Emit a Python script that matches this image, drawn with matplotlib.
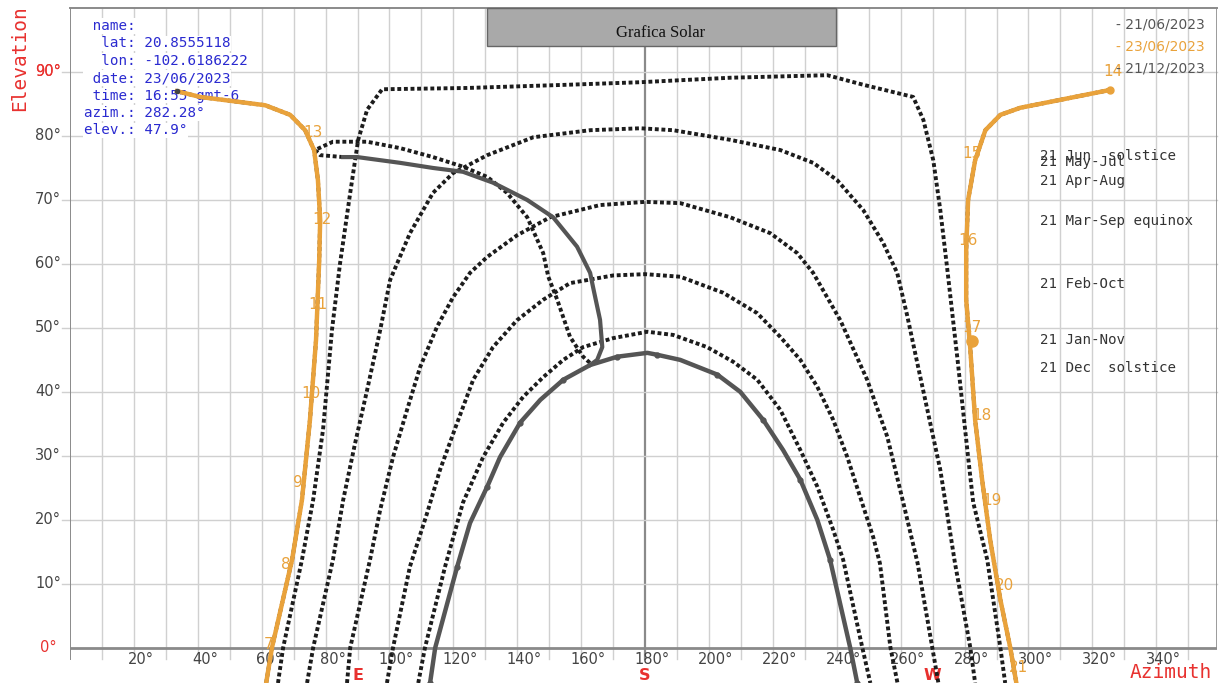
import matplotlib
matplotlib.use("Agg")
import matplotlib.pyplot as plt
from matplotlib.patches import Rectangle

# ---------------- data (azimuth deg, elevation deg) ----------------
may_az = [65.1, 66.7, 72.6, 76.1, 79.2, 82.0, 84.5, 87.7, 90.2, 93.0, 97.7, 124.3, 155.6, 178.5, 206.6,
          237.0, 248.3, 263.9, 267.1, 270.2, 272.4, 274.6, 277.8, 281.1, 282.7, 287.1, 291.2, 292.7]
may_el = [-5.5, 0.0, 13.75, 23.1, 34.1, 49.7, 60.0, 71.1, 79.4, 84.1, 87.3, 87.5, 88.0, 88.4, 89.1,
          89.5, 88.0, 86.1, 82.5, 76.2, 68.4, 59.1, 45.0, 29.8, 22.7, 13.75, 0.0, -5.5]

apr_az = [74.2, 76.1, 82.3, 85.5, 89.2, 93.0, 97.1, 100.2, 106.4, 113.6, 119.9, 123.0, 130.6, 145.0, 162.8,
          178.5, 188.8, 206.6, 222.3, 232.6, 240.1, 248.3, 254.5, 258.9, 262.0, 265.2, 272.4, 277.0, 281.8, 283.3]
apr_el = [-5.5, 0.0, 13.75, 23.1, 31.9, 40.3, 49.7, 57.5, 64.8, 71.1, 74.2, 75.0, 77.0, 79.8, 80.9,
          81.2, 80.9, 79.4, 77.8, 75.8, 73.1, 68.4, 63.3, 58.6, 52.0, 44.5, 27.8, 13.2, 0.0, -5.5]

mar_az = [86.7, 87.7, 93.9, 97.1, 101.1, 105.5, 109.6, 114.9, 119.9, 125.2, 130.6, 140.0, 150.3, 165.9, 180.0,
          191.0, 206.6, 219.2, 227.6, 232.6, 241.1, 249.5, 255.8, 260.8, 265.3, 269.9, 271.8]
mar_el = [-5.5, 0.0, 13.75, 21.6, 29.8, 37.2, 43.9, 50.2, 54.8, 58.6, 61.1, 64.5, 67.3, 69.2, 69.7,
          69.5, 67.3, 64.8, 61.7, 58.6, 51.2, 41.9, 33.0, 22.7, 13.2, 0.0, -5.5]

feb_az = [99.2, 101.1, 106.4, 111.8, 115.8, 121.2, 126.2, 132.4, 139.9, 148.1, 156.5, 170.0, 180.0,
          191.0, 204.4, 215.1, 222.3, 228.6, 233.9, 238.9, 243.3, 247.3, 251.4, 253.5, 256.8, 259.0]
feb_el = [-5.5, 0.0, 12.7, 21.1, 27.8, 35.2, 41.9, 47.0, 51.2, 54.4, 57.0, 58.2, 58.4,
          58.0, 55.5, 52.3, 48.6, 45.0, 40.8, 35.6, 29.8, 23.6, 17.3, 13.2, 0.0, -5.5]

jan_az = [109.0, 111.1, 117.4, 123.0, 129.3, 135.6, 141.8, 148.1, 154.4, 160.6, 170.0, 180.7,
          188.8, 199.4, 207.6, 215.1, 222.3, 228.6, 233.9, 238.9, 242.0, 248.0, 250.5]
jan_el = [-5.5, 0.0, 12.7, 22.7, 29.8, 35.2, 39.2, 42.3, 45.0, 47.0, 48.4, 49.4,
          48.9, 47.0, 44.7, 41.9, 37.2, 30.9, 25.2, 18.4, 13.75, 0.0, -5.5]

dec_az = [112.7, 114.3, 121.2, 125.2, 130.6, 134.6, 140.9, 147.2, 154.4, 162.8, 171.3, 180.7, 183.8,
          191.0, 202.6, 209.8, 217.0, 223.2, 228.6, 233.9, 237.9, 244.2, 246.4]
dec_el = [-5.5, 0.0, 12.7, 19.5, 25.2, 29.8, 35.2, 38.75, 41.9, 44.2, 45.5, 46.1, 45.8,
          45.0, 42.7, 40.0, 35.6, 30.9, 26.25, 20.0, 13.75, 0.0, -5.5]

hourA_az = [85.5, 78.3, 76.7, 82.3, 93.0, 103.3, 113.6, 123.0, 130.6, 136.8, 143.1, 148.1, 149.7,
            152.5, 156.5, 160.6, 162.8]
hourA_el = [76.7, 77.0, 77.8, 79.1, 79.1, 78.1, 76.7, 75.2, 73.6, 71.1, 67.3, 61.7, 58.0,
            54.4, 48.6, 45.5, 44.5]

hourB_az = [85.5, 89.9, 103.3, 113.6, 123.0, 132.4, 143.1, 151.2, 158.7, 162.8, 163.7, 165.9, 166.6, 165.0, 162.8]
hourB_el = [76.7, 76.7, 75.8, 75.0, 74.4, 72.7, 70.0, 67.3, 62.7, 58.6, 56.4, 51.25, 47.0, 45.0, 44.2]

sun_am_az = [61.4, 63.2, 69.5, 72.6, 75.1, 77.0, 78.0, 78.3, 77.6, 76.4, 73.6, 68.9, 61.1, 40.7, 33.5]
sun_am_el = [-5.5, 0.0, 13.75, 23.1, 35.6, 48.1, 60.6, 66.9, 73.1, 77.8, 80.9, 83.3, 84.8, 86.1, 87.0]
sun_pm_az = [325.6, 297.4, 291.2, 286.5, 283.3, 281.1, 280.5, 280.5, 281.8, 283.3, 285.5, 288.0, 291.2, 294.3, 296.2]
sun_pm_el = [87.2, 84.4, 83.3, 80.9, 76.2, 70.0, 62.2, 54.4, 46.6, 35.6, 26.2, 16.9, 7.5, 0.0, -5.5]

hour_labels = ["7", "8", "9", "10", "11", "12", "13", "14", "15", "16", "17", "18", "19", "20", "21"]
hour_az = [62.0, 67.6, 71.4, 75.4, 77.6, 78.9, 76.1, 326.5, 282.4, 281.1, 282.4, 285.5, 288.6, 292.4, 296.8]
hour_el = [0.5, 13.0, 25.9, 39.8, 53.6, 66.9, 80.5, 90.0, 77.3, 63.6, 50.0, 36.25, 23.0, 9.7, -3.1]

current_az = [282.28]
current_el = [47.9]

x_ticks = list(range(20, 360, 20))
y_ticks = list(range(0, 100, 10))
cardinal_labels = ["E", "S", "W"]
cardinal_az = [90, 180, 270]

info_labels = ["name", "lat", "lon", "date", "time", "azim.", "elev."]
info_values = ["", "20.8555118", "-102.6186222", "23/06/2023", "16:55 gmt-6", "282.28°", "47.9°"]

legend_labels = ["21/06/2023", "23/06/2023", "21/12/2023"]
path_labels = ["21 Jun  solstice", "21 May-Jul", "21 Apr-Aug", "21 Mar-Sep equinox",
               "21 Feb-Oct", "21 Jan-Nov", "21 Dec  solstice"]
path_label_el = [76.8, 76.0, 73.0, 66.7, 56.9, 48.1, 43.8]

# ---------------- styling ----------------
W, H = 1221, 683
fig = plt.figure(figsize=(W / 100, H / 100), dpi=100)
fig.patch.set_facecolor("white")

def fx(px):
    return px / W

def fy(py):
    return 1 - py / H

ax = fig.add_axes([fx(70), fy(683), fx(1217) - fx(70), fy(8) - fy(683)])
ax.set_xlim(0, 359)
ax.set_ylim(-5.5, 100)
for s in ax.spines.values():
    s.set_visible(False)
ax.set_xticks([])
ax.set_yticks([])

GRID = "#d0d0d0"
ORANGE = "#e9a23b"
RED = "#e8312f"
DARK = "#444444"

# grid
for a in range(10, 359, 10):
    ax.plot([a, a], [-1.8, 100], color="#8a8a8a" if a == 180 else GRID,
            lw=1.6 if a == 180 else 1.0, zorder=1)
for e in range(10, 100, 10):
    ax.plot([-2.6, 359], [e, e], color=GRID, lw=1.0, zorder=1, clip_on=False)
ax.plot([0, 359], [0, 0], color="#8a8a8a", lw=2.0, zorder=2)
ax.plot([0, 0], [-1.8, 100], color="#8a8a8a", lw=1.4, zorder=2)
ax.plot([359, 359], [0, 100], color="#8a8a8a", lw=1.2, zorder=2)
ax.plot([0, 359], [100, 100], color="#8a8a8a", lw=1.4, zorder=2, clip_on=False)

# info text (below the curves, white background hides the grid)
for i, (lab, val) in enumerate(zip(info_labels, info_values)):
    s = f"{lab + ':':>6} {val}"
    ax.text(fx(84), fy(26 + i * 17.4), s, color="#2a2ad0", fontsize=10.3, ha="left", va="center",
            fontfamily="DejaVu Sans Mono", transform=fig.transFigure, zorder=3,
            bbox=dict(facecolor="white", edgecolor="none", pad=0.6))

# hatched day paths
hatch = dict(color="#1c1c1c", lw=2.8, linestyle=(0, (1.0, 0.7)), zorder=4, solid_capstyle="butt")
for az, el in [(may_az, may_el), (apr_az, apr_el), (mar_az, mar_el), (feb_az, feb_el), (jan_az, jan_el)]:
    ax.plot(az, el, **hatch)
ax.plot(hourA_az, hourA_el, **hatch)

# solid paths
ax.plot(hourB_az, hourB_el, color="#555555", lw=3.0, zorder=5)
ax.plot(dec_az, dec_el, color="#555555", lw=3.2, zorder=5, marker="o", ms=3.5, markevery=2)

# the day (orange) over the hatched June path
ax.plot(sun_am_az, sun_am_el, **hatch)
ax.plot(sun_pm_az, sun_pm_el, **hatch)
ax.plot(sun_am_az, sun_am_el, color=ORANGE, lw=3.2, zorder=6)
ax.plot(sun_pm_az, sun_pm_el, color=ORANGE, lw=3.2, zorder=6)
ax.plot(sun_pm_az[:1], sun_pm_el[:1], "o", color=ORANGE, ms=5, zorder=7)
ax.plot(sun_am_az[-1:], sun_am_el[-1:], "o", color="#444444", ms=3, zorder=7)
ax.plot(current_az, current_el, "o", color=ORANGE, ms=8, zorder=7)
for lab, a, e in zip(hour_labels, hour_az, hour_el):
    ax.text(a, e, lab, color=ORANGE, fontsize=11, ha="center", va="center", zorder=8,
            fontfamily="DejaVu Sans")

# axis tick labels
for a in x_ticks:
    ax.text(a + 2.2, -1.75, f"{a}°", color=DARK, fontsize=10.5, ha="center", va="center",
            fontfamily="DejaVu Sans", clip_on=False)
for e in y_ticks:
    col = RED if e in (0, 90) else DARK
    fig.text(fx(48), fy(648 - e * 6.4), f"{e}°", color=col, fontsize=10.5, ha="center", va="center",
             fontfamily="DejaVu Sans")
fig.text(fx(48), fy(648 - 90 * 6.4), "90°", color=RED, fontsize=10.5, ha="center", va="center",
         fontfamily="DejaVu Sans")
for lab, a in zip(cardinal_labels, cardinal_az):
    ax.text(a, -4.4, lab, color=RED, fontsize=11.5, fontweight="bold", ha="center", va="center",
            fontfamily="DejaVu Sans", clip_on=False)

fig.text(fx(20), fy(58), "Elevation", color=RED, fontsize=14, rotation=90, ha="center", va="center",
         fontfamily="DejaVu Sans Mono")
fig.text(fx(1212), fy(673), "Azimuth", color=RED, fontsize=14, ha="right", va="center",
         fontfamily="DejaVu Sans Mono")

# title box
ax.add_patch(Rectangle((130.6, 94.0), 109.3, 6.0, facecolor="#a9a9a9", edgecolor="#666666",
                       lw=1.0, zorder=9, clip_on=False))
fig.text(fx(661), fy(33), "Grafica Solar", fontsize=12, ha="center", va="center",
         fontfamily="Liberation Serif", color="#111111", zorder=10)

# legend
for i, lab in enumerate(legend_labels):
    col = ORANGE if i == 1 else "#555555"
    fig.text(fx(1205), fy(24 + i * 22.5), "- " + lab, color=col, fontsize=10, ha="right", va="center",
             fontfamily="DejaVu Sans", zorder=3)

# path labels
for lab, e in zip(path_labels, path_label_el):
    ax.text(303.5, e, lab, color="#333333", fontsize=10.2, ha="left", va="center",
            fontfamily="DejaVu Sans Mono", zorder=3)

fig.savefig("out.png", dpi=100)
